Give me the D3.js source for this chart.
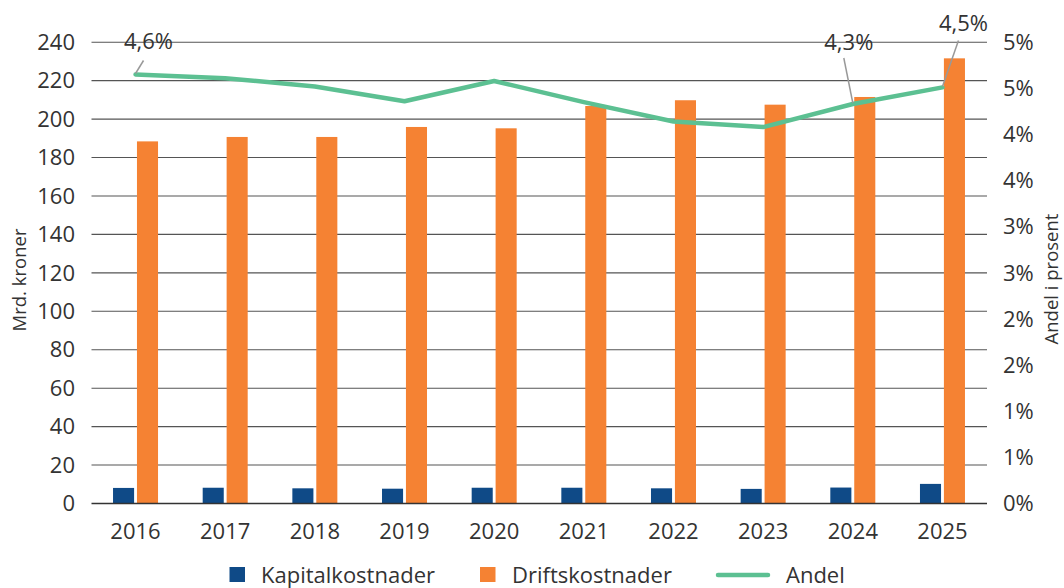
<!DOCTYPE html>
<html>
<head>
<meta charset="utf-8">
<script src="https://cdn.jsdelivr.net/npm/d3@7"></script>
<style>
html,body{margin:0;padding:0;background:#fff;}
svg{display:block;font-family:"Open Sans",sans-serif;}
</style>
</head>
<body>
<svg id="chart" width="1064" height="588"></svg>
<script>
const years = ["2016","2017","2018","2019","2020","2021","2022","2023","2024","2025"];
const kapital = [8.1, 8.2, 7.9, 7.7, 8.2, 8.2, 7.9, 7.6, 8.3, 10.2];
const drift = [188.4, 190.7, 190.7, 195.9, 195.2, 206.8, 209.8, 207.5, 211.5, 231.6];
const andel = [4.65, 4.61, 4.52, 4.36, 4.58, 4.35, 4.14, 4.08, 4.33, 4.51];
const leftTicks = [0,20,40,60,80,100,120,140,160,180,200,220,240];
const rightTicks = [0,0.5,1,1.5,2,2.5,3,3.5,4,4.5,5];
const pointLabels = [{i:0,text:"4,6%"},{i:8,text:"4,3%"},{i:9,text:"4,5%"}];
const seriesNames = ["Kapitalkostnader","Driftskostnader","Andel"];
const colors = {kapital:"#0f4a87", drift:"#f58233", andel:"#5cc092"};

const svg = d3.select("#chart");
const x = d3.scaleBand().domain(years).range([90.7, 987.3]).padding(0);
const y = d3.scaleLinear().domain([0,240]).range([503.5, 42.2]);
const yR = d3.scaleLinear().domain([0,5]).range([503.5, 42.2]);
const inner = d3.scaleBand().domain(["k","d"]).range([-22.5, 22.5]).paddingInner(0.12);

const textColor = "#333";
const fs = 22;

// gridlines
svg.append("g").selectAll("line").data(leftTicks.filter(d=>d>0)).join("line")
  .attr("x1",91.5).attr("x2",987).attr("y1",d=>y(d)).attr("y2",d=>y(d))
  .attr("stroke","#555").attr("stroke-width",1.1);

// left axis labels
svg.append("g").selectAll("text").data(leftTicks).join("text")
  .attr("x",75).attr("y",d=>y(d)).attr("dy","0.35em").attr("text-anchor","end")
  .attr("font-size",fs).attr("fill",textColor).text(d=>d);

// right axis labels (0.5 steps rounded to whole percent, half up)
const fmtR = d => Math.floor(d + 0.5) + "%";
svg.append("g").selectAll("text").data(rightTicks).join("text")
  .attr("x",1003).attr("y",d=>yR(d)).attr("dy","0.35em").attr("text-anchor","start")
  .attr("font-size",fs).attr("fill",textColor).text(fmtR);

// axis titles
svg.append("text").attr("transform","translate(26,280) rotate(-90)")
  .attr("text-anchor","middle").attr("font-size",18.5).attr("fill",textColor).text("Mrd. kroner");
svg.append("text").attr("transform","translate(1058,279) rotate(-90)")
  .attr("text-anchor","middle").attr("font-size",18.5).attr("fill",textColor).text("Andel i prosent");

// bars
const g = svg.append("g");
g.selectAll("rect.k").data(years).join("rect").attr("class","k")
  .attr("x",(d)=>x(d)+x.bandwidth()/2+inner("k")).attr("width",inner.bandwidth())
  .attr("y",(d,i)=>y(kapital[i])).attr("height",(d,i)=>y(0)-y(kapital[i]))
  .attr("fill",colors.kapital);
g.selectAll("rect.d").data(years).join("rect").attr("class","d")
  .attr("x",(d)=>x(d)+x.bandwidth()/2+inner("d")).attr("width",inner.bandwidth())
  .attr("y",(d,i)=>y(drift[i])).attr("height",(d,i)=>y(0)-y(drift[i]))
  .attr("fill",colors.drift);

// baseline
svg.append("line").attr("x1",91.5).attr("x2",987).attr("y1",y(0)).attr("y2",y(0))
  .attr("stroke","#333").attr("stroke-width",1.3);

// x labels
svg.append("g").selectAll("text").data(years).join("text")
  .attr("x",d=>x(d)+x.bandwidth()/2).attr("y",531).attr("dy","0.35em")
  .attr("text-anchor","middle").attr("font-size",fs).attr("fill",textColor).text(d=>d);

// line
const line = d3.line().x((d,i)=>x(years[i])+x.bandwidth()/2).y(d=>yR(d));
svg.append("path").datum(andel).attr("d",line).attr("fill","none")
  .attr("stroke",colors.andel).attr("stroke-width",4.5).attr("stroke-linejoin","round").attr("stroke-linecap","round");

// point labels with leader lines
const labelOffsets = {0:{dx:13,dy:-33,lx:8,ly:-14}, 8:{dx:-4,dy:-62,lx:-9,ly:-46}, 9:{dx:21,dy:-64,lx:16,ly:-47}};
pointLabels.forEach(p=>{
  const px = x(years[p.i])+x.bandwidth()/2, py = yR(andel[p.i]);
  const o = labelOffsets[p.i];
  svg.append("line").attr("x1",px).attr("y1",py-1).attr("x2",px+o.lx).attr("y2",py+o.ly)
    .attr("stroke","#999").attr("stroke-width",1.5);
  svg.append("text").attr("x",px+o.dx).attr("y",py+o.dy).attr("dy","0.35em")
    .attr("text-anchor","middle").attr("font-size",fs).attr("fill",textColor).text(p.text);
});

// legend
const leg = svg.append("g");
leg.append("rect").attr("x",229.5).attr("y",567).attr("width",15.5).attr("height",15).attr("fill",colors.kapital);
leg.append("text").attr("x",261).attr("y",575).attr("dy","0.35em").attr("font-size",fs).attr("fill",textColor).text(seriesNames[0]);
leg.append("rect").attr("x",480).attr("y",567).attr("width",15.5).attr("height",15).attr("fill",colors.drift);
leg.append("text").attr("x",512).attr("y",575).attr("dy","0.35em").attr("font-size",fs).attr("fill",textColor).text(seriesNames[1]);
leg.append("line").attr("x1",718).attr("x2",768).attr("y1",575).attr("y2",575)
  .attr("stroke",colors.andel).attr("stroke-width",4.5).attr("stroke-linecap","round");
leg.append("text").attr("x",786).attr("y",575).attr("dy","0.35em").attr("font-size",fs).attr("fill",textColor).text(seriesNames[2]);
</script>
</body>
</html>
